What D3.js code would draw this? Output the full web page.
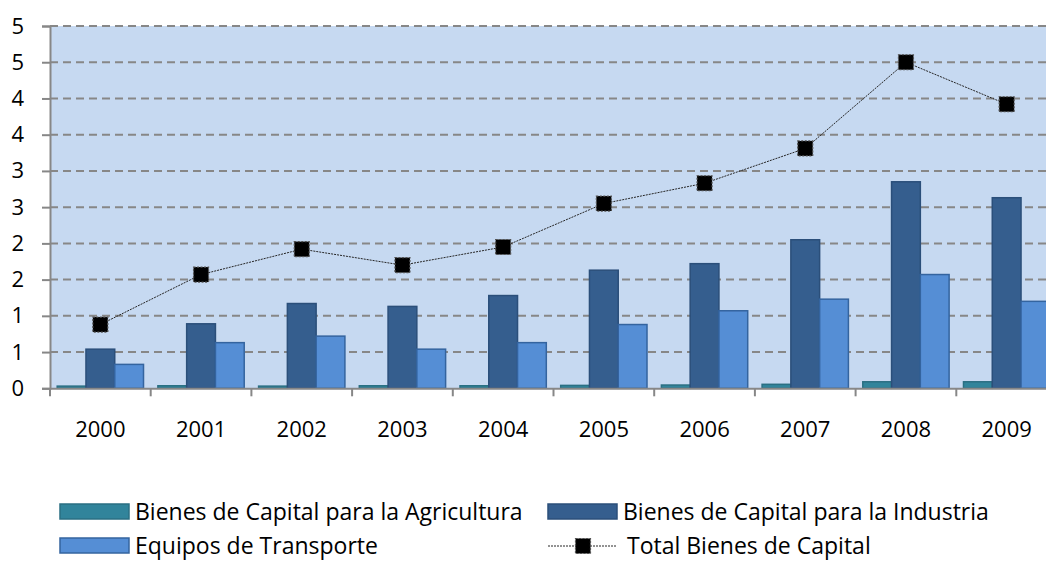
<!DOCTYPE html>
<html><head><meta charset="utf-8">
<script src="https://cdn.jsdelivr.net/npm/d3@7"></script>
<style>body{margin:0;background:#fff}svg{display:block;font-family:"Open Sans",sans-serif}</style>
</head><body><svg id="c" width="1046" height="561"></svg>
<script>
const years = ["2000","2001","2002","2003","2004","2005","2006","2007","2008","2009"];
const agricultura = [0.03,0.035,0.03,0.035,0.035,0.04,0.045,0.055,0.09,0.09];
const industria = [0.54,0.89,1.17,1.13,1.28,1.63,1.72,2.05,2.85,2.63];
const transporte = [0.33,0.63,0.72,0.54,0.63,0.88,1.07,1.23,1.57,1.20];
const total = [0.88,1.57,1.92,1.70,1.95,2.55,2.83,3.31,4.50,3.92];
const yTickValues = [0,0.5,1,1.5,2,2.5,3,3.5,4,4.5,5];
const yTickLabels = ["0","1","1","2","2","3","3","4","4","5","5"];
const seriesNames = ["Bienes de Capital para la Agricultura","Bienes de Capital para la Industria","Equipos de Transporte","Total Bienes de Capital"];

const barSeries = [
  {name: seriesNames[0], values: agricultura, fill:"#31849b", stroke:"#2a6f83"},
  {name: seriesNames[1], values: industria, fill:"#355e8e", stroke:"#2b4f7a"},
  {name: seriesNames[2], values: transporte, fill:"#558ed5", stroke:"#34649f"}
];

const svg = d3.select("#c");
const L = 50, R = 1057, T = 26, B = 388.3;
const x = d3.scaleBand().domain(years).range([L, R]).paddingInner(0).paddingOuter(0);
const xi = d3.scaleBand().domain(barSeries.map(d=>d.name)).range([0, x.bandwidth()]).paddingInner(0).paddingOuter(0.25);
const y = d3.scaleLinear().domain([0,5]).range([B, T]);

// plot background
svg.append("rect").attr("x", L).attr("y", y(5)).attr("width", R-L).attr("height", y(0)-y(5)).attr("fill","#c6d9f1");

// grid lines
svg.append("g").selectAll("line").data(yTickValues.filter(v=>v>0)).join("line")
  .attr("x1", L).attr("x2", R).attr("y1", d=>y(d)).attr("y2", d=>y(d))
  .attr("stroke","#878787").attr("stroke-width",2).attr("stroke-dasharray","8,5");

// y axis
const yAxis = d3.axisLeft(y).tickValues(yTickValues).tickFormat((d,i)=>yTickLabels[i]).tickSize(8).tickPadding(18);
const gy = svg.append("g").attr("transform",`translate(${L},0)`).call(yAxis);
gy.select(".domain").attr("stroke","#878787").attr("stroke-width",2);
gy.selectAll(".tick line").attr("stroke","#878787").attr("stroke-width",2);
gy.selectAll(".tick text").attr("font-size",22).attr("fill","#000").attr("font-family","'Open Sans',sans-serif");

// bars
const groups = svg.append("g").selectAll("g").data(years).join("g")
  .attr("transform", d=>`translate(${x(d)},0)`);
barSeries.forEach(s=>{
  groups.append("rect")
    .attr("x", xi(s.name)).attr("width", xi.bandwidth())
    .attr("y", (d,i)=>y(s.values[i])).attr("height",(d,i)=>y(0)-y(s.values[i]))
    .attr("fill", s.fill).attr("stroke", s.stroke).attr("stroke-width",1.5);
});

// x axis
const xAxis = d3.axisBottom(x).tickSize(0).tickPadding(33);
const gx = svg.append("g").attr("transform",`translate(0,${B})`).call(xAxis);
gx.select(".domain").attr("stroke","#878787").attr("stroke-width",2);
gx.selectAll(".tick text").attr("font-size",22).attr("fill","#000").attr("font-family","'Open Sans',sans-serif");
// category boundary ticks
gx.append("g").selectAll("line").data(years).join("line")
  .attr("x1", d=>x(d)).attr("x2", d=>x(d)).attr("y1",0).attr("y2",8)
  .attr("stroke","#878787").attr("stroke-width",2);

// total line
const line = d3.line().x((d,i)=>x(years[i])+x.bandwidth()/2).y(d=>y(d));
svg.append("path").datum(total).attr("d", line).attr("fill","none")
  .attr("stroke","#262626").attr("stroke-width",1).attr("stroke-dasharray","2,1");
const ms = 15;
svg.append("g").selectAll("rect").data(total).join("rect")
  .attr("x",(d,i)=>x(years[i])+x.bandwidth()/2-ms/2).attr("y",d=>y(d)-ms/2)
  .attr("width",ms).attr("height",ms).attr("fill","#000")
  .attr("stroke","#555").attr("stroke-width",1.2).attr("stroke-dasharray","2,1.5");

// legend
const legend = svg.append("g").attr("font-size",23).attr("font-family","'Open Sans',sans-serif");
const items = [
  {s: barSeries[0], x: 60, y: 504},
  {s: barSeries[1], x: 548, y: 504},
  {s: barSeries[2], x: 60, y: 538}
];
items.forEach(it=>{
  legend.append("rect").attr("x",it.x).attr("y",it.y).attr("width",69).attr("height",15)
    .attr("fill",it.s.fill).attr("stroke",it.s.stroke).attr("stroke-width",1.5);
  legend.append("text").attr("x",it.x+75).attr("y",it.y+7.5).attr("dy","0.35em").text(it.s.name);
});
legend.append("line").attr("x1",548).attr("x2",617).attr("y1",546).attr("y2",546)
  .attr("stroke","#262626").attr("stroke-width",1).attr("stroke-dasharray","2,1");
legend.append("rect").attr("x",583-ms/2).attr("y",546-ms/2).attr("width",ms).attr("height",ms)
  .attr("fill","#000").attr("stroke","#555").attr("stroke-width",1.2).attr("stroke-dasharray","2,1.5");
legend.append("text").attr("x",627).attr("y",546).attr("dy","0.35em").text(seriesNames[3]);
</script></body></html>
